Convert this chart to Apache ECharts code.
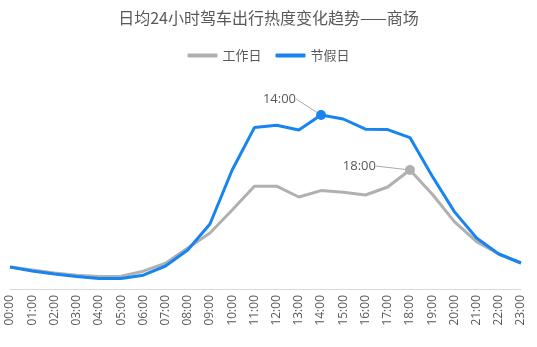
<!DOCTYPE html>
<html>
<head>
<meta charset="utf-8">
<script src="https://cdn.jsdelivr.net/npm/echarts@6/dist/echarts.min.js"></script>
<style>html,body{margin:0;padding:0;background:#fff}#c{width:537px;height:347px}</style>
</head>
<body>
<div id="c"></div>
<script>
var titleText = '日均24小时驾车出行热度变化趋势——商场';
var hours = ['00:00','01:00','02:00','03:00','04:00','05:00','06:00','07:00','08:00','09:00','10:00','11:00',
             '12:00','13:00','14:00','15:00','16:00','17:00','18:00','19:00','20:00','21:00','22:00','23:00'];
var workdayName = '工作日';
var holidayName = '节假日';
var workday = [11, 9.5, 8, 6.9, 6.2, 6.4, 8.9, 12.9, 20.5, 28, 39.5, 51.4, 51.4, 46, 49.2, 48.4, 47, 51, 59.5, 47.5, 33.7, 23.7, 17.5, 13];
var holiday = [11, 9, 7.5, 6.2, 5.2, 5.2, 6.9, 11.5, 19.5, 32.5, 59.5, 80.7, 81.9, 79.5, 87, 85, 79.9, 79.7, 75.7, 56.5, 38.7, 25.5, 17.5, 13];
var workdayPeak = 18;
var holidayPeak = 14;

var FONT = '"Noto Sans CJK SC", "Noto Sans", sans-serif';

function buildData(arr, peak, color) {
  return arr.map(function (v, i) {
    if (i !== peak) return v;
    return {
      value: v,
      symbol: 'circle',
      symbolSize: 10,
      itemStyle: { color: color },
      label: {
        show: true,
        formatter: hours[i],
        position: 'left',
        color: '#595959',
        fontSize: 13,
        fontFamily: '"Open Sans", sans-serif'
      },
      labelLine: { show: true, lineStyle: { color: '#aaaaaa', width: 1 } }
    };
  });
}

var chart = echarts.init(document.getElementById('c'));
chart.setOption({
  backgroundColor: '#fff',
  animation: false,
  title: {
    text: titleText,
    left: 'center',
    top: 5,
    textStyle: { color: '#595959', fontSize: 16, fontWeight: 'normal', fontFamily: FONT }
  },
  legend: {
    top: 44,
    left: 'center',
    data: [workdayName, holidayName],
    icon: 'roundRect',
    itemWidth: 30,
    itemHeight: 4,
    itemGap: 14,
    textStyle: { color: '#595959', fontSize: 13, fontFamily: FONT }
  },
  grid: { left: 10, right: 16, top: 89, bottom: 58, containLabel: false },
  xAxis: {
    type: 'category',
    data: hours,
    boundaryGap: false,
    axisLine: { lineStyle: { color: '#d9d9d9', width: 1 } },
    axisTick: { show: false },
    axisLabel: { rotate: 90, color: '#595959', fontSize: 12, interval: 0, margin: 6, fontFamily: '"Open Sans", sans-serif' }
  },
  yAxis: {
    type: 'value', min: 0, max: 100, show: false,
    splitLine: { show: false }
  },
  series: [
    {
      name: workdayName,
      type: 'line',
      symbol: 'none',
      showSymbol: true,
      color: '#b0b0b0',
      lineStyle: { width: 3, color: '#b0b0b0' },
      data: buildData(workday, workdayPeak, '#b0b0b0'),
      labelLayout: function (p) { return { dx: -24, dy: -4 }; },
      z: 2
    },
    {
      name: holidayName,
      type: 'line',
      symbol: 'none',
      showSymbol: true,
      color: '#1784f0',
      lineStyle: { width: 3, color: '#1784f0' },
      data: buildData(holiday, holidayPeak, '#1784f0'),
      labelLayout: function (p) { return { dx: -15, dy: -16 }; },
      z: 3
    }
  ]
});
</script>
</body>
</html>
